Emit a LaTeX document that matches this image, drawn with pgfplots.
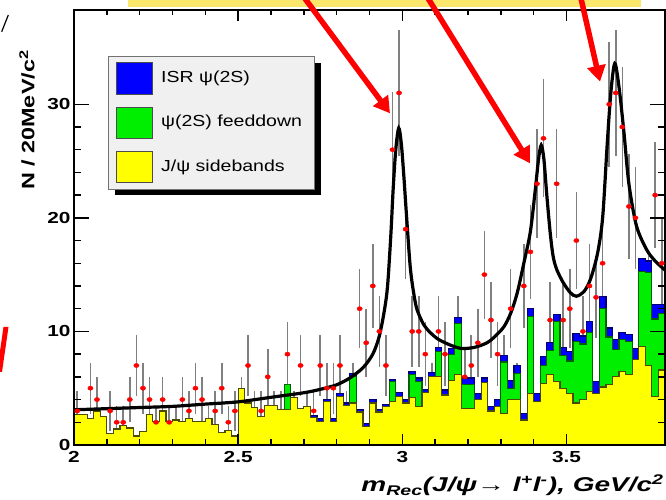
\documentclass[border=0pt]{standalone}
\usepackage{fontspec}
\setmainfont{Liberation Sans}
\usepackage{graphicx}
\usepackage{pgfplots}
\usepackage{pgfplotstable}
\pgfplotsset{compat=1.18}
\usetikzlibrary{arrows.meta}
\definecolor{histblue}{RGB}{0,0,255}
\definecolor{histgreen}{RGB}{0,238,0}
\definecolor{histyellow}{RGB}{255,255,0}
\definecolor{boxyellow}{RGB}{250,231,108}
\definecolor{legbg}{RGB}{240,240,240}
\definecolor{errgray}{RGB}{128,128,128}
\newcommand{\sx}[1]{\scalebox{1.3}[1]{#1}}

% bin left edge, sidebands (Y), +feeddown (G), +ISR (B)
\pgfplotstableread{
x Y G B
2.00 2.7 2.7 2.7
2.02 2.7 2.7 2.7
2.04 2.3 2.3 2.3
2.06 3.0 3.0 3.0
2.08 2.5 2.5 2.5
2.10 1.0 1.0 1.0
2.12 1.4 1.4 1.4
2.14 1.7 1.7 1.7
2.16 1.5 1.5 1.5
2.18 0.8 0.8 0.8
2.20 1.2 1.2 1.2
2.22 2.7 2.7 2.7
2.24 2.1 2.1 2.1
2.26 3.0 3.0 3.0
2.28 2.1 2.1 2.1
2.30 2.2 2.2 2.2
2.32 2.1 2.1 2.1
2.34 2.3 2.3 2.3
2.36 2.1 2.1 2.1
2.38 2.1 2.1 2.1
2.40 2.3 2.3 2.3
2.42 1.8 1.8 1.8
2.44 1.1 1.1 1.1
2.46 1.3 1.3 1.3
2.48 0.8 0.8 0.8
2.50 5.0 5.0 5.0
2.52 3.7 3.7 3.7
2.54 3.3 3.3 3.3
2.56 2.5 2.5 2.5
2.58 3.5 3.5 3.5
2.60 3.5 3.5 3.5
2.62 3.1 3.1 3.1
2.64 3.1 5.35 5.35
2.66 4.2 4.2 4.2
2.68 3.2 3.2 3.2
2.70 3.4 3.4 3.4
2.72 2.4 2.4 2.6
2.74 2.1 2.1 2.35
2.76 3.8 3.8 4.0
2.78 2.1 2.1 2.3
2.80 4.3 4.3 4.5
2.82 3.5 3.5 3.7
2.84 3.7 6.0 6.3
2.86 2.9 2.9 3.1
2.88 1.6 1.6 1.9
2.90 3.7 3.7 4.0
2.92 2.9 2.9 3.1
2.94 3.4 3.4 3.6
2.96 3.8 5.6 5.8
2.98 4.3 4.3 4.6
3.00 3.7 3.7 4.0
3.02 4.2 6.2 6.5
3.04 3.4 5.6 5.9
3.06 4.6 4.6 4.9
3.08 6.0 6.0 6.4
3.10 6.0 8.2 8.6
3.12 4.4 4.4 4.85
3.14 5.7 8.0 8.5
3.16 6.2 10.7 11.2
3.18 3.2 5.3 5.9
3.20 3.2 5.3 5.9
3.22 4.0 4.0 4.5
3.24 5.5 5.5 5.9
3.26 3.0 3.0 3.4
3.28 3.4 3.4 4.0
3.30 2.8 7.3 7.85
3.32 4.0 5.0 5.7
3.34 4.0 6.3 7.0
3.36 2.2 2.2 2.8
3.38 4.5 11.3 12.0
3.40 3.8 3.8 4.5
3.42 5.4 7.0 7.8
3.44 6.2 8.3 9.0
3.46 5.6 10.9 11.5
3.48 5.0 7.9 8.6
3.50 4.5 7.4 8.2
3.52 3.7 9.1 9.8
3.54 4.0 8.9 9.6
3.56 4.7 9.9 10.9
3.58 4.5 4.5 5.6
3.60 5.1 12.0 13.1
3.62 5.3 9.5 10.3
3.64 6.0 8.4 9.3
3.66 6.5 9.3 9.9
3.68 6.2 9.1 9.7
3.70 7.5 7.5 8.5
3.72 8.7 15.3 16.4
3.74 7.0 15.2 16.2
3.76 4.3 11.1 12.4
3.78 6.6 11.6 12.4
3.80 6.6 11.6 12.4
}\hist

% data: bin centre, counts, error (all non-empty bins)
\pgfplotstableread{
x n e
2.01 3 1.73
2.03 1 1
2.05 5 2.24
2.07 4 2
2.11 3 1.73
2.13 2 1.41
2.15 2 1.41
2.17 4 2
2.19 7 2.65
2.21 5 2.24
2.23 4 2
2.25 2 1.41
2.27 4 2
2.29 2 1.41
2.31 2 1.41
2.33 4 2
2.35 3 1.73
2.37 5 2.24
2.39 4 2
2.41 2 1.41
2.43 3 1.73
2.45 5 2.24
2.47 2 1.41
2.49 3 1.73
2.51 4 2
2.53 7 2.65
2.55 3 1.73
2.57 3 1.73
2.59 6 2.45
2.61 3 1.73
2.63 3 1.73
2.65 8 2.83
2.67 3 1.73
2.69 7 2.65
2.71 3 1.73
2.73 3 1.73
2.75 7 2.65
2.77 5 2.24
2.79 5 2.24
2.81 7 2.65
2.83 3 1.73
2.85 5 2.24
2.87 12 3.46
2.89 9 3
2.91 14 3.74
2.93 10 3.16
2.95 7 2.65
2.97 26 5.10
2.99 31 5.57
3.01 19 4.36
3.03 10 3.16
3.05 10 3.16
3.07 8 2.83
3.09 5 2.24
3.11 10 3.16
3.13 8 2.83
3.15 5 2.24
3.17 10 3.16
3.19 6 2.45
3.21 7 2.65
3.23 9 3
3.25 15 3.87
3.27 11 3.32
3.29 8 2.83
3.31 7 2.65
3.33 12 3.46
3.35 5 2.24
3.37 14 3.74
3.39 17 4.12
3.41 23 4.80
3.43 27 5.20
3.45 11 3.32
3.47 23 4.80
3.49 11 3.32
3.51 12 3.46
3.53 18 4.24
3.55 10 3.16
3.57 14 3.74
3.59 13 3.61
3.61 16 4
3.63 30 5.48
3.65 31 5.57
3.67 28 5.29
3.69 21 4.58
3.71 20 4.47
3.73 12 3.46
3.75 13 3.61
3.77 22 4.69
3.79 16 4
}\data

% data points that stand above the stacked histograms
\pgfplotstableread{
x n
2.01 3
2.05 5
2.07 4
2.11 3
2.13 2
2.15 2
2.17 4
2.19 7
2.21 5
2.23 4
2.25 2
2.27 4
2.29 2
2.33 4
2.35 3
2.37 5
2.39 4
2.43 3
2.45 5
2.47 2
2.49 3
2.53 7
2.57 3
2.59 6
2.65 8
2.69 7
2.73 3
2.75 7
2.77 5
2.79 5
2.81 7
2.87 12
2.89 9
2.91 14
2.93 10
2.95 7
2.97 26
2.99 31
3.01 19
3.03 10
3.05 10
3.07 8
3.11 10
3.13 8
3.19 6
3.21 7
3.23 9
3.25 15
3.27 11
3.29 8
3.33 12
3.37 14
3.39 17
3.41 23
3.43 27
3.45 11
3.47 23
3.49 11
3.51 12
3.53 18
3.55 10
3.57 14
3.59 13
3.61 16
3.63 30
3.65 31
3.67 28
3.69 21
3.71 20
3.77 22
3.79 16
}\vis

% fit curve
\pgfplotstableread{
x y
2.00 3.1
2.10 3.2
2.20 3.3
2.30 3.4
2.40 3.6
2.50 3.8
2.60 4.2
2.70 4.6
2.75 4.9
2.80 5.3
2.84 5.9
2.88 6.8
2.91 8.0
2.93 9.6
2.945 11.8
2.955 14.0
2.965 18.5
2.972 22.5
2.980 26.0
2.989 27.9
2.997 26.5
3.005 23.5
3.012 20.5
3.024 15.7
3.035 13.3
3.045 11.9
3.065 10.6
3.085 9.9
3.11 9.3
3.146 8.8
3.18 8.5
3.22 8.6
3.258 9.0
3.28 9.5
3.309 10.4
3.33 11.6
3.35 13.4
3.37 16.0
3.39 18.8
3.405 22.5
3.415 25.2
3.423 26.4
3.431 25.2
3.44 22.0
3.451 18.5
3.46 16.5
3.471 15.4
3.49 14.3
3.512 13.4
3.53 13.1
3.553 13.5
3.573 14.6
3.594 16.8
3.61 20.0
3.624 26.5
3.635 31.0
3.647 33.6
3.66 31.5
3.675 27.5
3.69 23.0
3.713 19.3
3.744 17.2
3.77 16.2
3.80 15.4
}\fit

\begin{document}
\begin{tikzpicture}
\path[use as bounding box] (0pt,0pt) rectangle (666pt,500pt);
\clip (0pt,0pt) rectangle (666pt,500pt);
\fill[white] (0pt,0pt) rectangle (666pt,500pt);
\begin{axis}[
  at={(74pt,55pt)}, anchor=south west,
  scale only axis, width=591pt, height=435pt,
  xmin=2, xmax=3.8, ymin=0, ymax=38.3,
  axis on top,
  tick align=inside,
  xtick={2,2.5,3,3.5}, xticklabels={\sx{2},\sx{2.5},\sx{3},\sx{3.5}},
  ytick={0,10,20,30}, yticklabels={\sx{0},\sx{10},\sx{20},\sx{30}},
  minor x tick num=4, minor y tick num=4,
  ticklabel style={font=\fontsize{16}{16}\selectfont\bfseries},
  xticklabel style={yshift=-3pt},
  axis line style={line width=2pt},
  tick style={black, line width=1.4pt},
  xtick style={/pgfplots/major tick length=11pt, /pgfplots/minor tick length=5.5pt},
  ytick style={/pgfplots/major tick length=15pt, /pgfplots/minor tick length=7pt},
]
% error bars (partly hidden by the histograms)
\addplot[draw=none, mark=none,
  error bars/.cd, y dir=both, y explicit, error mark=none,
  error bar style={errgray, line width=1.6pt}]
  table[x=x, y=n, y error=e]{\data};
\addplot[const plot mark left, fill=histblue, draw=histblue!45!black, line width=1.2pt]
  table[x=x, y=B]{\hist} \closedcycle;
\addplot[const plot mark left, fill=histgreen, draw=histgreen!40!black, line width=1.2pt]
  table[x=x, y=G]{\hist} \closedcycle;
\addplot[const plot mark left, fill=histyellow, draw=histyellow!30!black, line width=1.2pt]
  table[x=x, y=Y]{\hist} \closedcycle;
\addplot[only marks, mark=*, mark size=2.1pt, color=red, mark options={xscale=1.25}]
  table[x=x, y=n]{\vis};
\addplot[black, line width=3.2pt, smooth, tension=0.5] table[x=x, y=y]{\fit};
\end{axis}
\begin{scope}[x=1pt, y=1pt]
% pale yellow box at the top
\fill[boxyellow] (128,492.5) rectangle (641,505);
% arrows
\draw[red, line width=5.5pt, -{Triangle[length=16pt,width=18pt]}] (302.3,505) -- (390,386.7);
\draw[red, line width=5.5pt, -{Triangle[length=16pt,width=18pt]}] (426,505) -- (530,336.7);
\draw[red, line width=5.5pt, -{Triangle[length=16pt,width=18pt]}] (580.2,505) -- (600,418.3);
% red slash on the left edge
\fill[red] (3.5,173) -- (8.5,173) -- (2,128) -- (-3,128) -- cycle;
% small black mark top left
\draw[black, line width=1.2pt] (8.3,485) -- (1.7,468.3);
% legend
\fill[black] (114.5,304.5) rectangle (320.7,437);
\filldraw[fill=legbg, draw=black!55, line width=0.6pt] (108.3,310.7) rectangle (314,443.3);
\filldraw[fill=histblue, draw=black!70, line width=0.8pt] (116,406) rectangle (152.7,437.3);
\filldraw[fill=histgreen, draw=black!70, line width=0.8pt] (116,361.7) rectangle (152.7,392.7);
\filldraw[fill=histyellow, draw=black!70, line width=0.8pt] (116,317.3) rectangle (152.7,348.3);
\node[anchor=west, inner sep=0pt, font=\fontsize{16}{16}\selectfont] at (161,421.7) {\scalebox{1.22}[1]{ISR ψ(2S)}};
\node[anchor=west, inner sep=0pt, font=\fontsize{16}{16}\selectfont] at (161,377.2) {\scalebox{1.22}[1]{ψ(2S) feeddown}};
\node[anchor=west, inner sep=0pt, font=\fontsize{16}{16}\selectfont] at (161,332.8) {\scalebox{1.22}[1]{J/ψ sidebands}};
% axis titles
\node[rotate=90, inner sep=0pt, font=\fontsize{18}{18}\selectfont\bfseries] at (27,380) {\sx{N / 20MeV/c\textsuperscript{2}}};
\node[anchor=base east, inner sep=0pt, font=\fontsize{20}{20}\selectfont\bfseries\itshape] at (664,8) {\scalebox{1.4}[1]{m\textsubscript{Rec}(J/ψ→ l\textsuperscript{+}l\textsuperscript{-}), GeV/c\textsuperscript{2}}};
\end{scope}
\end{tikzpicture}
\end{document}
